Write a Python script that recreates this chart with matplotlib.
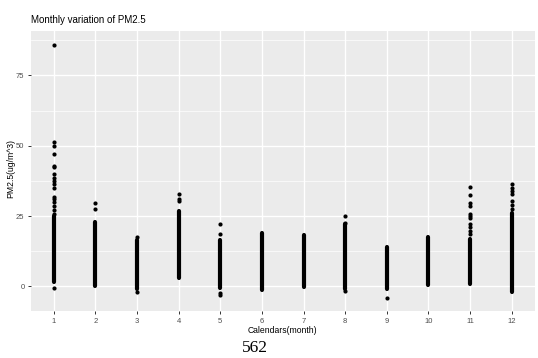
import numpy as np
import matplotlib.pyplot as plt
from matplotlib.ticker import MultipleLocator

plt.rcParams['font.family'] = ['Liberation Sans', 'DejaVu Sans']

# months on the x axis
months = [1, 2, 3, 4, 5, 6, 7, 8, 9, 10, 11, 12]

# dense part of each month's column (lowest and highest value of the solid run)
band_low = [1.7, 0.3, -0.9, 2.9, -0.6, -1.2, -0.1, -0.9, -0.9, 0.5, 0.9, -2.0]
band_high = [25.0, 23.0, 16.4, 26.8, 16.4, 18.9, 18.3, 22.1, 14.1, 17.6, 16.8, 26.2]

# single points standing apart from the solid run
m1_pts = [86.0, 51.3, 50.0, 47.0, 42.9, 42.3, 40.0, 38.6, 37.4, 36.4, 35.0,
          31.8, 31.1, 29.9, 28.5, 27.1, 25.6, -0.4]
m2_pts = [29.5, 27.4]
m3_pts = [17.7, -2.0]
m4_pts = [33.0, 31.2, 30.3]
m5_pts = [22.3, 18.8, -2.3, -3.2]
m6_pts = []
m7_pts = []
m8_pts = [25.0, 22.7, -1.8]
m9_pts = [-4.2]
m10_pts = []
m11_pts = [35.4, 32.4, 29.5, 28.5, 25.8, 25.0, 24.2, 22.1, 21.1, 19.7, 18.8]
m12_pts = [36.5, 35.0, 33.8, 32.7, 30.3, 29.1, 27.4]

outliers = [m1_pts, m2_pts, m3_pts, m4_pts, m5_pts, m6_pts,
            m7_pts, m8_pts, m9_pts, m10_pts, m11_pts, m12_pts]

fig = plt.figure(figsize=(5.38, 3.58), dpi=100)
ax = fig.add_axes([0.0576, 0.130, 0.9359, 0.7834])
ax.set_facecolor('#EBEBEB')

for m, lo, hi, pts in zip(months, band_low, band_high, outliers):
    ax.plot([m, m], [lo, hi], color='black', lw=3.0, solid_capstyle='round', zorder=3)
    if pts:
        ax.scatter([m] * len(pts), pts, s=9, color='black', linewidths=0, zorder=3)

ax.set_xlim(0.45, 12.55)
ax.set_ylim(-8.9, 90.8)
ax.set_xticks(months)
ax.yaxis.set_major_locator(MultipleLocator(25))
ax.yaxis.set_minor_locator(MultipleLocator(12.5))

ax.grid(which='major', color='white', lw=1.0)
ax.grid(which='minor', axis='y', color='white', lw=0.5)
ax.set_axisbelow(True)
for s in ax.spines.values():
    s.set_visible(False)

ax.tick_params(which='major', length=2.5, width=0.7, color='#333333',
               labelsize=5.5, labelcolor='#4D4D4D', pad=2.2)
ax.tick_params(which='minor', length=0)

ax.set_xlabel('Calendars(month)', fontsize=6.2)
ax.set_ylabel('PM2.5(ug/m^3)', fontsize=6.2)
ax.xaxis.set_label_coords(0.5, -0.052)
ax.yaxis.set_label_coords(-0.031, 0.51)
ax.set_title('Monthly variation of PM2.5', fontsize=7, loc='left', pad=6)

fig.text(0.474, 0.029, '562', fontsize=12.5, family='Liberation Serif',
         ha='center', va='center')

fig.savefig('out.png', dpi=100)
